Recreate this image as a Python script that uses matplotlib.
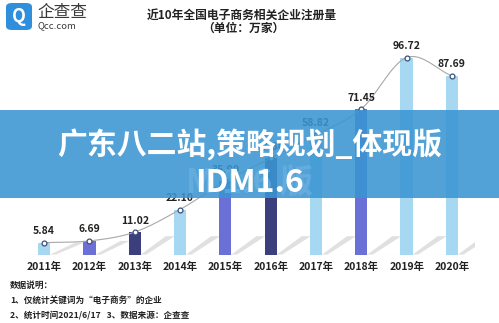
import matplotlib
matplotlib.use("Agg")
import numpy as np
import matplotlib.pyplot as plt
from matplotlib.patches import FancyBboxPatch, Polygon, Rectangle

plt.rcParams['font.family'] = ['Noto Sans CJK SC', 'DejaVu Sans']

years = ["2011年", "2012年", "2013年", "2014年", "2015年",
         "2016年", "2017年", "2018年", "2019年", "2020年"]
values = [5.84, 6.69, 11.02, 22.10, 35.90, 47.30, 58.82, 71.45, 96.72, 87.69]
labels = ["5.84", "6.69", "11.02", "22.10", "35.90", "47.30", "58.82", "71.45", "96.72", "87.69"]
bar_colors = ["#a6d8f2", "#6a70d6", "#3c3f7e", "#a6d8f2", "#6a70d6",
              "#3c3f7e", "#a6d8f2", "#6a70d6", "#a6d8f2", "#a6d8f2"]
notes = ["数据说明：", "1、仅统计关键词为“电子商务”的企业",
         "2、统计时间2021/6/17   3、数据来源：企查查"]


def catmull(xs, ys, n=20):
    # smooth curve through the points for the trend line
    px = np.concatenate([[2 * xs[0] - xs[1]], xs, [2 * xs[-1] - xs[-2]]])
    py = np.concatenate([[2 * ys[0] - ys[1]], ys, [2 * ys[-1] - ys[-2]]])
    ox, oy = [], []
    for i in range(1, len(px) - 2):
        t = np.linspace(0, 1, n, endpoint=False)
        for p, o in ((px, ox), (py, oy)):
            p0, p1, p2, p3 = p[i - 1], p[i], p[i + 1], p[i + 2]
            o.extend(0.5 * (2 * p1 + (-p0 + p2) * t + (2 * p0 - 5 * p1 + 4 * p2 - p3) * t ** 2
                            + (-p0 + 3 * p1 - 3 * p2 + p3) * t ** 3))
    ox.append(xs[-1]); oy.append(ys[-1])
    return np.array(ox), np.array(oy)


fig = plt.figure(figsize=(4.99, 3.23), dpi=100)
ax = fig.add_axes([0.043, 0.212, 0.908, 0.662])
x = np.arange(len(years))
w = 0.27

# shadows
for xi, v in zip(x, values):
    h = min(v, 9)
    sh = Polygon([(xi + w / 2, 0), (xi + w / 2 + 0.12, 0), (xi + w / 2 + 0.75, h), (xi + w / 2 + 0.55, h)],
                 closed=True, facecolor="#d9d9d9", edgecolor="none", alpha=0.8, zorder=1)
    ax.add_patch(sh)

ax.bar(x, values, width=w, color=bar_colors, zorder=2)
cx, cy = catmull(x.astype(float), np.array(values))
ax.plot(cx, cy, color="#a8a8a8", lw=0.8, zorder=3)
ax.plot(x, values, "o", ms=3.5, mfc="white", mec="#3d4f7a", mew=0.9, zorder=4)
for xi, v, lb in zip(x, values, labels):
    ax.text(xi, v + 3.2, lb, ha="center", va="bottom", fontsize=7.5, fontweight="bold", color="#222222")

ax.axhline(0, color="#e6e6e6", lw=0.8, zorder=0)
ax.set_xlim(-0.5, 9.5)
ax.set_ylim(0, 105)
ax.set_yticks([])
ax.set_xticks(x)
ax.set_xticklabels(years, fontsize=7.5, fontweight="bold", color="#222222")
ax.tick_params(axis="x", length=0, pad=5)
for s in ax.spines.values():
    s.set_visible(False)

# header
fig.text(0.485, 0.953, "近10年全国电子商务相关企业注册量", ha="center", va="center",
         fontsize=8.5, fontweight="bold", color="#222222")
fig.text(0.487, 0.912, "（单位：万家）", ha="center", va="center",
         fontsize=8.5, fontweight="bold", color="#222222")

# logo
logo = FancyBboxPatch((6 / 499, 1 - 30 / 323), 26 / 499, 27 / 323, boxstyle="round,pad=0,rounding_size=0.012",
                      transform=fig.transFigure, facecolor="#2f8fdc", edgecolor="none")
fig.patches.append(logo)
fig.text(19 / 499, 1 - 16 / 323, "Q", ha="center", va="center", fontsize=13, fontweight="bold", color="white")
fig.text(37 / 499, 1 - 12 / 323, "企查查", ha="left", va="center", fontsize=12, color="#3a3a3a")
fig.text(38 / 499, 1 - 26 / 323, "Qcc.com", ha="left", va="center", fontsize=6.8, color="#3a3a3a")

# footnotes
for i, t in enumerate(notes):
    fig.text(10 / 499, 1 - (285 + 15 * i) / 323, t, ha="left", va="center",
             fontsize=6.2, fontweight="bold", color="#222222")

# banner overlay
fig.patches.append(Rectangle((0, 1 - 198 / 323), 1, 88 / 323, transform=fig.transFigure,
                             facecolor="#3a95d2", edgecolor="none", alpha=0.88, zorder=10))
fig.text(0.5, 1 - 183 / 323, "M 1.6 版", ha="center", va="center", fontsize=24,
         fontweight="bold", color="#6fb3e2", alpha=0.6, zorder=11)
fig.text(0.5, 1 - 145 / 323, "广东八二站,策略规划_体现版", ha="center", va="center",
         fontsize=21.5, fontweight="bold", color="white", zorder=12)
fig.text(0.5, 1 - 183 / 323, "IDM1.6", ha="center", va="center",
         fontsize=23, fontweight="bold", color="white", zorder=12)

fig.savefig("out.png", dpi=100)
